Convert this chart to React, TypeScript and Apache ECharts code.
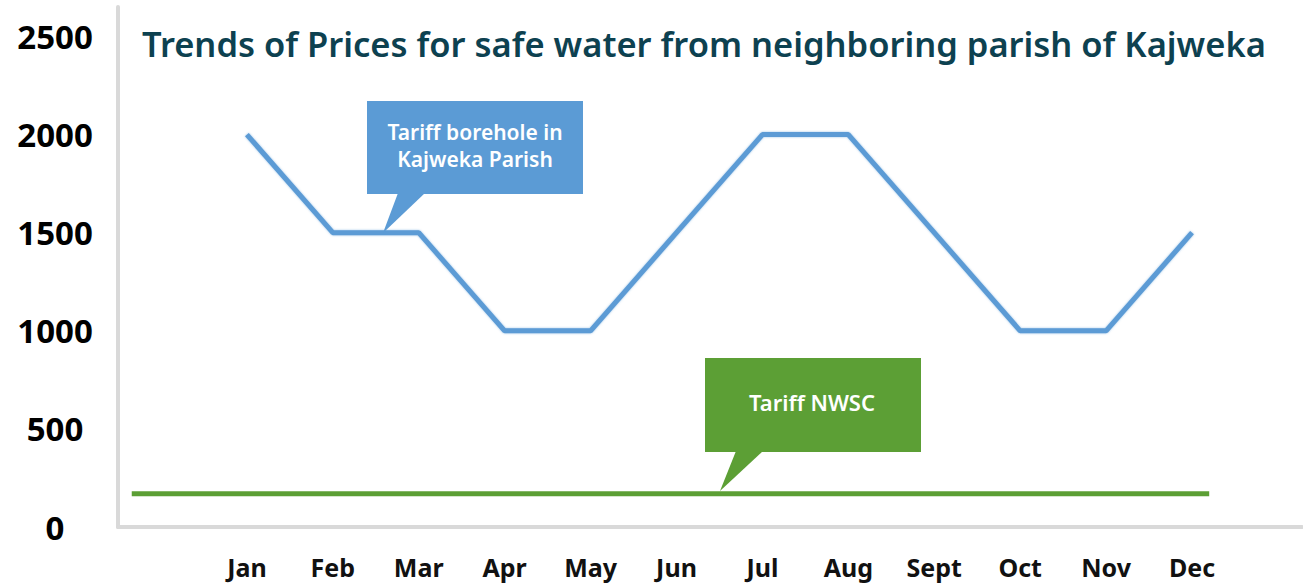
import React, { useEffect, useRef } from "react";
import * as echarts from "echarts";

const months = ["Jan", "Feb", "Mar", "Apr", "May", "Jun", "Jul", "Aug", "Sept", "Oct", "Nov", "Dec"];
const boreholeTariff = [2000, 1500, 1500, 1000, 1000, 1500, 2000, 2000, 1500, 1000, 1000, 1500];
const nwscTariff = 170;
const nwscSpan = [-1.34, 11.2];

const FONT = "'Noto Sans', 'Open Sans', sans-serif";

export default function App() {
  const ref = useRef<HTMLDivElement>(null);
  useEffect(() => {
    if (!ref.current) return;
    const chart = echarts.init(ref.current, undefined, { renderer: "svg" });
    chart.setOption({
      animation: false,
      backgroundColor: "#ffffff",
      title: {
        text: "Trends of Prices for safe water from neighboring parish of Kajweka",
        left: 137,
        top: 21,
        textStyle: { fontFamily: FONT, fontSize: 34.5, fontWeight: 600, color: "#0d4150" },
      },
      grid: { left: 118, right: 1, top: 7, bottom: 56 },
      xAxis: {
        type: "value",
        min: -1.5,
        max: 12.28,
        splitLine: { show: false },
        axisTick: { show: false },
        axisLine: { show: true, onZero: false, lineStyle: { color: "#d9d9d9", width: 4 } },
        axisLabel: {
          customValues: months.map((_, i) => i),
          formatter: (v: number) => months[Math.round(v)] ?? "",
          fontFamily: FONT,
          fontSize: 25,
          fontWeight: "bold",
          color: "#111",
          margin: 27,
        },
      },
      yAxis: {
        type: "value",
        min: 0,
        max: 2650,
        interval: 500,
        splitLine: { show: false },
        axisTick: { show: false },
        axisLine: { show: true, onZero: false, lineStyle: { color: "#d9d9d9", width: 4 } },
        axisLabel: {
          formatter: (v: number) => (v % 500 === 0 ? String(v) : ""),
          fontFamily: FONT,
          fontSize: 33,
          fontWeight: "bold",
          color: "#000",
          align: "center",
          margin: 63,
        },
      },
      series: [
        {
          name: "Tariff borehole in Kajweka Parish",
          type: "line",
          data: boreholeTariff.map((v, i) => [i, v]),
          symbol: "none",
          lineStyle: { color: "#5b9bd5", width: 5, shadowBlur: 2, shadowColor: "rgba(91,155,213,0.6)" },
          z: 3,
        },
        {
          name: "Tariff NWSC",
          type: "line",
          data: nwscSpan.map((x) => [x, nwscTariff]),
          symbol: "none",
          lineStyle: { color: "#5c9f35", width: 5 },
          z: 2,
        },
      ],
      graphic: [
        { type: "rect", shape: { x: 367, y: 101, width: 216, height: 93 }, style: { fill: "#5b9bd5" }, z: 10 },
        { type: "polygon", shape: { points: [[398, 193], [425, 193], [383, 233]] }, style: { fill: "#5b9bd5" }, z: 10 },
        {
          type: "text", x: 475, y: 145, z: 11,
          style: {
            text: "Tariff borehole in\nKajweka Parish", fill: "#ffffff", fontFamily: FONT, fontSize: 21,
            fontWeight: 600, align: "center", verticalAlign: "middle", lineHeight: 27,
          },
        },
        { type: "rect", shape: { x: 705, y: 358, width: 216, height: 94 }, style: { fill: "#5c9f35" }, z: 10 },
        { type: "polygon", shape: { points: [[736, 451], [763, 451], [720, 491]] }, style: { fill: "#5c9f35" }, z: 10 },
        {
          type: "text", x: 812, y: 402, z: 11,
          style: {
            text: "Tariff NWSC", fill: "#ffffff", fontFamily: FONT, fontSize: 22,
            fontWeight: 600, align: "center", verticalAlign: "middle",
          },
        },
      ],
    });
    return () => chart.dispose();
  }, []);
  return <div ref={ref} style={{ position: "fixed", left: 0, top: 0, width: 1303, height: 583 }} />;
}
